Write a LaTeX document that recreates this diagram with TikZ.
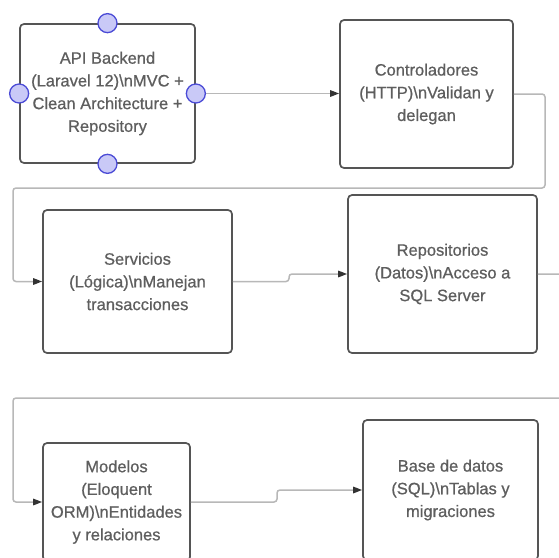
\documentclass[tikz,border=0pt]{standalone}
\usepackage{fontspec}
\setmainfont{Liberation Sans}
\newfontfamily\boxfont[FakeBold=0.7]{Liberation Sans}
\usepackage{tikz}
\usetikzlibrary{positioning}
\usetikzlibrary{arrows.meta}
\usetikzlibrary{calc}

\definecolor{boxline}{HTML}{555555}
\definecolor{boxtext}{HTML}{5E5E5E}
\definecolor{wiregrey}{HTML}{B8B8B8}
\definecolor{tipcol}{HTML}{333333}
\definecolor{handlefill}{HTML}{C9C9F7}
\definecolor{handleline}{HTML}{4B4BD6}

\tikzset{
layer/.style={draw=boxline, line width=1.7pt, rounded corners=4pt, fill=white, text=boxtext, align=center, font=\boxfont\fontsize{16.5}{22.7}\selectfont, inner sep=0pt},
wire/.style={draw=wiregrey, line width=1.5pt, rounded corners=3pt, -{Triangle[length=9pt,width=6.5pt,color=tipcol]}},
handle/.style={circle, draw=handleline, fill=handlefill, line width=1.3pt, minimum size=19pt, inner sep=0pt}
}

\begin{document}
\begin{tikzpicture}[x=1pt,y=-1pt]
\useasboundingbox (0,0) rectangle (559,557);
\fill[white] (0,0) rectangle (559,557);
\clip (0,0) rectangle (559,557);

\node[layer, minimum width=175pt, minimum height=139pt] (api) at (107.5,93.5) {API Backend\\(Laravel 12)\textbackslash nMVC +\\Clean Architecture +\\Repository};
\node[layer, minimum width=173pt, minimum height=148pt] (ctrl) at (426.5,94) {Controladores\\(HTTP)\textbackslash nValidan y\\delegan};

\node[layer, minimum width=189pt, minimum height=143pt] (serv) at (137.5,281.5) {Servicios\\(Lógica)\textbackslash nManejan\\transacciones};
\node[layer, minimum width=189pt, minimum height=158pt] (repo) at (442.5,274) {Repositorios\\(Datos)\textbackslash nAcceso a\\SQL Server};

\node[layer, minimum width=147pt, minimum height=118pt] (model) at (116.5,502) {Modelos\\(Eloquent\\ORM)\textbackslash nEntidades\\y relaciones};
\node[layer, minimum width=175pt, minimum height=140pt] (db) at (450.5,490) {Base de datos\\(SQL)\textbackslash nTablas y\\migraciones};

\coordinate (r1) at (545,188);
\coordinate (l1) at (13,188);
\coordinate (j1) at (289,0);
\coordinate (r2) at (575,398);
\coordinate (l2) at (13,398);
\coordinate (j2) at (277,0);

\draw[wire] (api.east) -- (api.east -| ctrl.west);
\draw[wire] (ctrl.east) -| (r1) -- (l1) |- (serv.west);
\draw[wire] (serv.east) -- (serv.east -| j1) -- (j1 |- repo.west) -- (repo.west);
\draw[wire] (repo.east) -| (r2) -- (l2) |- (model.west);
\draw[wire] (model.east) -- (model.east -| j2) -- (j2 |- db.west) -- (db.west);

\node[handle] (hn) at (api.north) {};
\node[handle] (hs) at (api.south) {};
\node[handle] (hw) at (api.west) {};
\node[handle] (he) at (api.east) {};
\end{tikzpicture}
\end{document}
